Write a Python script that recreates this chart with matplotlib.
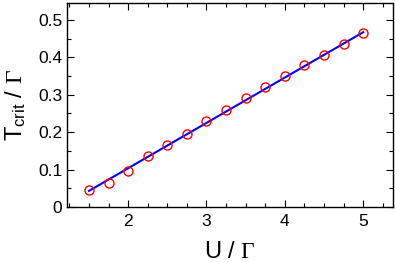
import matplotlib
matplotlib.use("Agg")
import matplotlib.pyplot as plt
from matplotlib.ticker import MultipleLocator

plt.rcParams['font.family'] = ['Liberation Sans', 'DejaVu Sans']
plt.rcParams['mathtext.fontset'] = 'custom'
plt.rcParams['mathtext.rm'] = 'Liberation Sans'
plt.rcParams['mathtext.it'] = 'Liberation Sans'
plt.rcParams['mathtext.tt'] = 'Liberation Serif'  # serif Gamma like the original

# data
u_vals = [1.5, 1.75, 2.0, 2.25, 2.5, 2.75, 3.0, 3.25, 3.5, 3.75, 4.0, 4.25, 4.5, 4.75, 5.0]
t_crit = [0.045, 0.065, 0.095, 0.135, 0.165, 0.195, 0.23, 0.26, 0.29, 0.32,
          0.35, 0.38, 0.405, 0.435, 0.465]

# linear fit line (endpoints)
fit_u = [1.5, 5.0]
fit_t = [0.043, 0.467]

fig = plt.figure(figsize=(3.95, 2.62), dpi=100)
ax = fig.add_axes([67 / 395, 55 / 262, 326 / 395, 204 / 262])

ax.plot(fit_u, fit_t, color='blue', linewidth=1.5, zorder=2)
ax.plot(u_vals, t_crit, linestyle='none', marker='o', markersize=6.5,
        markerfacecolor='none', markeredgecolor='red', markeredgewidth=1.0, zorder=3)

ax.set_xlim(1.22, 5.38)
ax.set_ylim(0, 0.545)
ax.xaxis.set_major_locator(MultipleLocator(1))
ax.xaxis.set_minor_locator(MultipleLocator(0.25))
ax.yaxis.set_minor_locator(MultipleLocator(0.05))
ax.set_yticks([0, 0.1, 0.2, 0.3, 0.4, 0.5])
ax.set_yticklabels(['0', '0.1', '0.2', '0.3', '0.4', '0.5'])

ax.tick_params(which='both', direction='in', top=True, right=True, labelsize=12.5)
ax.tick_params(which='major', length=5, width=0.8)
ax.tick_params(which='minor', length=3, width=0.8)
ax.tick_params(axis='x', pad=5)
for s in ax.spines.values():
    s.set_linewidth(1.0)

ax.set_xlabel(r'U / $\mathtt{\Gamma}$', fontsize=17, labelpad=9)
ax.set_ylabel(r'$\mathregular{T_{crit}}$ / $\mathtt{\Gamma}$', fontsize=17, labelpad=7)

fig.savefig('out.png', dpi=100)
